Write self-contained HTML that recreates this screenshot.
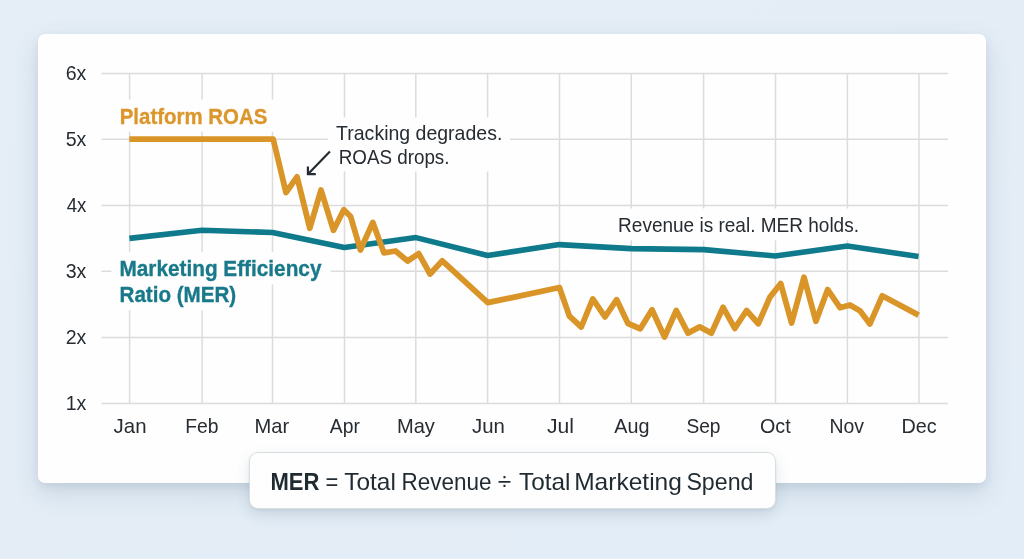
<!DOCTYPE html>
<html>
<head>
<meta charset="utf-8">
<style>
html,body{margin:0;padding:0;}
body{width:1024px;height:559px;overflow:hidden;position:relative;background:linear-gradient(160deg,#e5eef6 0%,#e4edf6 60%,#e3edf7 100%);font-family:"Liberation Sans",sans-serif;}
.card{position:absolute;left:38px;top:34px;width:948px;height:448.5px;background:#fefefe;border-radius:7px;box-shadow:0 10px 26px rgba(60,92,118,0.15), 0 4px 8px rgba(60,92,118,0.10);}
.formula{position:absolute;left:249px;top:452.2px;width:526.5px;height:56.5px;box-sizing:border-box;background:#fefefe;border:1px solid #d9dee3;border-radius:9px;box-shadow:0 6px 14px rgba(60,92,118,0.16), 0 1px 3px rgba(60,92,118,0.08);}
svg{position:absolute;left:0;top:0;will-change:transform;}
</style>
</head>
<body>
<div class="card"></div>
<svg width="1024" height="559" viewBox="0 0 1024 559" font-family="Liberation Sans, sans-serif">
<g stroke="#dcdcdd" stroke-width="1.5" fill="none">
<line x1="101.5" y1="73.4" x2="948" y2="73.4"/>
<line x1="101.5" y1="139.3" x2="948" y2="139.3"/>
<line x1="101.5" y1="205.4" x2="948" y2="205.4"/>
<line x1="101.5" y1="271.3" x2="948" y2="271.3"/>
<line x1="101.5" y1="337.4" x2="948" y2="337.4"/>
<line x1="101.5" y1="403.4" x2="948" y2="403.4"/>
<line x1="129.6" y1="73.4" x2="129.6" y2="403.4"/>
<line x1="202.1" y1="73.4" x2="202.1" y2="403.4"/>
<line x1="272.5" y1="73.4" x2="272.5" y2="403.4"/>
<line x1="344.5" y1="73.4" x2="344.5" y2="403.4"/>
<line x1="415.8" y1="73.4" x2="415.8" y2="403.4"/>
<line x1="487.6" y1="73.4" x2="487.6" y2="403.4"/>
<line x1="559.5" y1="73.4" x2="559.5" y2="403.4"/>
<line x1="631.3" y1="73.4" x2="631.3" y2="403.4"/>
<line x1="703.6" y1="73.4" x2="703.6" y2="403.4"/>
<line x1="775.5" y1="73.4" x2="775.5" y2="403.4"/>
<line x1="847.4" y1="73.4" x2="847.4" y2="403.4"/>
<line x1="919" y1="73.4" x2="919" y2="403.4"/>
</g>
<g fill="#fefefe">
<rect x="111.7" y="99.6" width="164.30" height="32.00"/>
<rect x="327.8" y="117.5" width="182.20" height="54.00"/>
<rect x="611" y="208.5" width="256.00" height="31.80"/>
<rect x="111.4" y="252" width="219.30" height="32.40"/>
<rect x="111.4" y="284.4" width="132.60" height="25.80"/>
</g>
<polyline fill="none" stroke="#0f7a8b" stroke-width="5.6" stroke-linejoin="round" stroke-linecap="butt" points="129.4,238.4 202,230.3 272.5,232.5 344.3,247.5 416,237.6 487.6,255.5 559.3,244.6 631.3,248.6 703.8,249.6 775.3,256 847.4,246 918.6,256.4"/>
<polyline fill="none" stroke="#da9528" stroke-width="5.8" stroke-linejoin="round" stroke-linecap="butt" points="129.3,139.1 273.2,139.1 286,192.5 297,176.8 309.8,228.3 321,190 333.5,230.3 343.8,209.7 350.6,216.5 360.4,250 372.8,222.4 384,252.9 395.5,251 407.6,261 418.7,253.6 430.1,274 442.3,260.8 487.8,302.7 559.4,287.5 569.4,316.1 581.25,327 592.8,298.9 605,316.9 616.7,299.7 628,323.5 640.3,328.75 652,309.7 664.5,337 676.25,310.5 688,333.1 699.7,326.9 711.4,333.1 723.1,307.3 734.8,328.4 746.6,310.5 758.3,323.75 769.8,297.4 780.7,283.5 791.6,323 804,277.3 815.9,321.25 827.7,289.6 840,307.7 850,305 860.2,311 869.9,323.9 882.2,295.8 918.6,315.1"/>
<g stroke="#252c31" stroke-width="2.2" fill="none" stroke-linecap="butt" stroke-linejoin="miter"><line x1="329.9" y1="151.6" x2="308.6" y2="173.6"/><polyline points="307.9,166.4 307.9,174.1 315.8,174.1"/></g>
<text x="113.60" y="432.9" font-size="20.8" font-weight="400" fill="#262c31" textLength="32.93" lengthAdjust="spacingAndGlyphs">Jan</text>
<text x="185.20" y="432.9" font-size="20.8" font-weight="400" fill="#262c31" textLength="33.24" lengthAdjust="spacingAndGlyphs">Feb</text>
<text x="254.50" y="432.9" font-size="20.8" font-weight="400" fill="#262c31" textLength="34.63" lengthAdjust="spacingAndGlyphs">Mar</text>
<text x="329.80" y="432.9" font-size="20.8" font-weight="400" fill="#262c31" textLength="30.07" lengthAdjust="spacingAndGlyphs">Apr</text>
<text x="397.00" y="432.9" font-size="20.8" font-weight="400" fill="#262c31" textLength="37.90" lengthAdjust="spacingAndGlyphs">May</text>
<text x="472.10" y="432.9" font-size="20.8" font-weight="400" fill="#262c31" textLength="32.83" lengthAdjust="spacingAndGlyphs">Jun</text>
<text x="546.90" y="432.9" font-size="20.8" font-weight="400" fill="#262c31" textLength="26.99" lengthAdjust="spacingAndGlyphs">Jul</text>
<text x="614.30" y="432.9" font-size="20.8" font-weight="400" fill="#262c31" textLength="35.22" lengthAdjust="spacingAndGlyphs">Aug</text>
<text x="686.40" y="432.9" font-size="20.8" font-weight="400" fill="#262c31" textLength="34.12" lengthAdjust="spacingAndGlyphs">Sep</text>
<text x="760.00" y="432.9" font-size="20.8" font-weight="400" fill="#262c31" textLength="30.66" lengthAdjust="spacingAndGlyphs">Oct</text>
<text x="829.40" y="432.9" font-size="20.8" font-weight="400" fill="#262c31" textLength="34.58" lengthAdjust="spacingAndGlyphs">Nov</text>
<text x="901.40" y="432.9" font-size="20.8" font-weight="400" fill="#262c31" textLength="35.18" lengthAdjust="spacingAndGlyphs">Dec</text>
<text x="65.70" y="79.8" font-size="20.8" font-weight="400" fill="#262c31" textLength="20.67" lengthAdjust="spacingAndGlyphs">6x</text>
<text x="65.70" y="145.7" font-size="20.8" font-weight="400" fill="#262c31" textLength="20.67" lengthAdjust="spacingAndGlyphs">5x</text>
<text x="66.70" y="211.8" font-size="20.8" font-weight="400" fill="#262c31" textLength="19.67" lengthAdjust="spacingAndGlyphs">4x</text>
<text x="65.70" y="277.7" font-size="20.8" font-weight="400" fill="#262c31" textLength="20.67" lengthAdjust="spacingAndGlyphs">3x</text>
<text x="65.70" y="343.7" font-size="20.8" font-weight="400" fill="#262c31" textLength="20.67" lengthAdjust="spacingAndGlyphs">2x</text>
<text x="65.70" y="409.7" font-size="20.8" font-weight="400" fill="#262c31" textLength="20.67" lengthAdjust="spacingAndGlyphs">1x</text>
<text x="119.70" y="123.6" font-size="22.6" font-weight="700" fill="#dc972c" stroke="#dc972c" stroke-width="0.35" textLength="147.70" lengthAdjust="spacingAndGlyphs">Platform ROAS</text>
<text x="119.50" y="275.75" font-size="22.6" font-weight="700" fill="#18798a" stroke="#18798a" stroke-width="0.35" textLength="201.93" lengthAdjust="spacingAndGlyphs">Marketing Efficiency</text>
<text x="119.50" y="302" font-size="22.6" font-weight="700" fill="#18798a" stroke="#18798a" stroke-width="0.35" textLength="116.73" lengthAdjust="spacingAndGlyphs">Ratio (MER)</text>
<text x="336.10" y="140.1" font-size="20.7" font-weight="400" fill="#262c31" textLength="166.23" lengthAdjust="spacingAndGlyphs">Tracking degrades.</text>
<text x="338.70" y="163.6" font-size="20.7" font-weight="400" fill="#262c31" textLength="110.78" lengthAdjust="spacingAndGlyphs">ROAS drops.</text>
<text x="618.10" y="231.6" font-size="20.7" font-weight="400" fill="#262c31" textLength="240.87" lengthAdjust="spacingAndGlyphs">Revenue is real. MER holds.</text>
</svg>
<div class="formula"></div>
<svg width="1024" height="559" viewBox="0 0 1024 559" font-family="Liberation Sans, sans-serif">
<text x="270.40" y="489.6" font-size="23.6" font-weight="700" fill="#1f2a31" textLength="48.94" lengthAdjust="spacingAndGlyphs"><tspan>MER</tspan></text>
<text x="325.50" y="489.6" font-size="23.6" font-weight="400" fill="#1f2a31" textLength="12.78" lengthAdjust="spacingAndGlyphs">=</text>
<text x="344.30" y="489.6" font-size="23.6" font-weight="400" fill="#1f2a31" textLength="51.54" lengthAdjust="spacingAndGlyphs">Total</text>
<text x="401.50" y="489.6" font-size="23.6" font-weight="400" fill="#1f2a31" textLength="90.05" lengthAdjust="spacingAndGlyphs">Revenue</text>
<text x="497.70" y="489.6" font-size="23.6" font-weight="400" fill="#1f2a31" textLength="13.45" lengthAdjust="spacingAndGlyphs">÷</text>
<text x="519.00" y="489.6" font-size="23.6" font-weight="400" fill="#1f2a31" textLength="51.44" lengthAdjust="spacingAndGlyphs">Total</text>
<text x="574.20" y="489.6" font-size="23.6" font-weight="400" fill="#1f2a31" textLength="107.69" lengthAdjust="spacingAndGlyphs">Marketing</text>
<text x="686.40" y="489.6" font-size="23.6" font-weight="400" fill="#1f2a31" textLength="67.13" lengthAdjust="spacingAndGlyphs">Spend</text>
</svg>
</body>
</html>
